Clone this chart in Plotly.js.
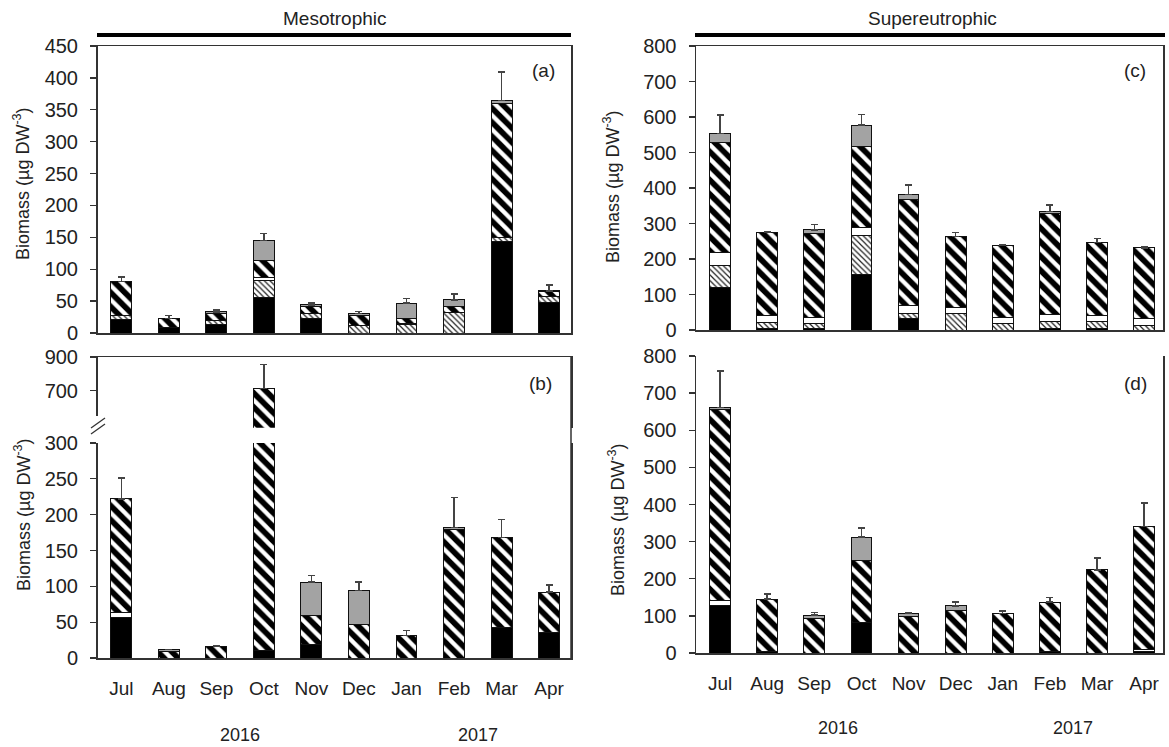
<!DOCTYPE html>
<html><head><meta charset="utf-8">
<script src="https://cdn.plot.ly/plotly-3.0.1.min.js"></script>
<style>body{margin:0;background:#fff}#chart{width:1169px;height:747px}</style>
</head><body><div id="chart"></div>
<script>
// ---- data (µg DW m-3) ----
const months = ["Jul","Aug","Sep","Oct","Nov","Dec","Jan","Feb","Mar","Apr"];
const yearLabels = ["2016","2017"];

// (a) Mesotrophic, upper
const aBlack = [21, 8, 14, 56, 23, 0, 0, 0, 143, 48];
const aFine  = [7, 0, 5, 26, 7, 11, 14, 32, 6, 9];
const aWhite = [0, 0, 0, 5, 0, 0, 1, 0, 0, 1];
const aBold  = [53, 15, 12, 27, 11, 17, 7, 10, 211, 7];
const aGray  = [0, 0, 2, 31, 3, 3, 25, 10, 5, 1];
const aErr   = [7, 4, 3, 11, 3, 3, 7, 9, 44, 9];

// (b) Mesotrophic, lower
const bBlack = [57, 0, 0, 10, 19, 0, 0, 0, 43, 35];
const bFine  = [0, 0, 0, 0, 0, 0, 0, 0, 0, 0];
const bWhite = [6, 0, 0, 0, 0, 0, 0, 0, 0, 0];
const bBold  = [159, 9, 16, 704, 41, 47, 31, 180, 125, 57];
const bGray  = [0, 3, 0, 0, 46, 47, 0, 2, 0, 0];
const bErr   = [29, 0, 1.5, 140, 9, 12, 7, 42, 25, 10];

// (c) Supereutrophic, upper
const cBlack = [120, 5, 4, 157, 32, 0, 0, 4, 4, 0];
const cFine  = [61, 15, 15, 110, 15, 47, 17, 20, 20, 13];
const cWhite = [38, 21, 17, 21, 21, 17, 17, 21, 17, 19];
const cBold  = [310, 234, 237, 229, 299, 199, 204, 282, 205, 199];
const cGray  = [25, 0, 9, 60, 15, 0, 0, 7, 0, 0];
const cErr   = [52, 3, 16, 30, 26, 12, 2, 18, 11, 3];

// (d) Supereutrophic, lower
const dBlack = [129, 3, 0, 82, 0, 0, 0, 4, 0, 4];
const dFine  = [0, 0, 0, 0, 0, 0, 0, 0, 0, 0];
const dWhite = [13, 0, 0, 0, 0, 0, 0, 0, 0, 5];
const dBold  = [513, 142, 93, 167, 97, 115, 106, 133, 224, 332];
const dGray  = [7, 0, 9, 63, 9, 12, 0, 0, 0, 0];
const dErr   = [98, 14, 7, 25, 3, 10, 7, 12, 32, 63];

// ---- layout helpers (pixel -> paper) ----
const W = 1169, H = 747;
const px = v => v / W;
const py = v => 1 - v / H;
const FONT = "Liberation Sans, Arial, sans-serif";
const TXT = "#222";
const LINE = "#333";

const outline = {color: "#111", width: 1};
const styles = {
  black: {color: "#000", line: outline},
  fine:  {color: "#fff", line: outline,
          pattern: {shape: "\\", fgcolor: "#222", bgcolor: "#fff", size: 4, solidity: 0.3}},
  white: {color: "#fff", line: outline},
  bold:  {color: "#000", line: outline,
          pattern: {shape: "\\", fgcolor: "#fff", bgcolor: "#000", size: 10, solidity: 0.42}},
  gray:  {color: "#a3a3a3", line: outline}
};

const traces = [];
function panel(series, err, xa, ya) {
  const order = ["black", "fine", "white", "bold", "gray"];
  order.forEach((k) => {
    const t = {
      type: "bar", x: months, y: series[k], xaxis: xa, yaxis: ya,
      marker: styles[k], showlegend: false, hoverinfo: "y"
    };
    if (k === "gray") {
      t.error_y = {type: "data", array: err, arrayminus: err.map(() => 0), symmetric: false,
                   color: "#444", thickness: 1.4, width: 3.5};
    }
    traces.push(t);
  });
}
panel({black: aBlack, fine: aFine, white: aWhite, bold: aBold, gray: aGray}, aErr, "x", "y");
panel({black: bBlack, fine: bFine, white: bWhite, bold: bBold, gray: bGray}, bErr, "x2", "y2");
panel({black: bBlack, fine: bFine, white: bWhite, bold: bBold, gray: bGray}, bErr, "x3", "y3");
panel({black: cBlack, fine: cFine, white: cWhite, bold: cBold, gray: cGray}, cErr, "x4", "y4");
panel({black: dBlack, fine: dFine, white: dWhite, bold: dBold, gray: dGray}, dErr, "x5", "y5");

const yTickFont = {family: FONT, size: 20, color: TXT};
const xTickFont = {family: FONT, size: 19, color: TXT};
function xax(dom, range, opts) {
  return Object.assign({
    domain: dom, range: range, type: "category", showline: true, linecolor: LINE, linewidth: 1.5,
    ticks: "", showticklabels: false, showgrid: false, zeroline: false, fixedrange: true,
    tickfont: xTickFont
  }, opts || {});
}
function yax(dom, range, opts) {
  return Object.assign({
    domain: dom, range: range, showline: true, linecolor: LINE, linewidth: 1.5,
    ticks: "outside", ticklen: 6, tickcolor: LINE, tickwidth: 1.3, showgrid: false, zeroline: false,
    tickfont: yTickFont, ticklabelstandoff: 8, fixedrange: true
  }, opts || {});
}
const leftX = [px(97.5), px(571)];
const rightX = [px(696), px(1163)];
const leftR = [-0.5, 9.46];
const rightR = [-0.51, 9.4];

function note(text, x, y, size, extra) {
  return Object.assign({text: text, xref: "paper", yref: "paper", x: x, y: y, showarrow: false,
    xanchor: "center", yanchor: "middle", font: {family: FONT, size: size, color: TXT}}, extra || {});
}
const yTitle = "Biomass (µg DW<sup>-3</sup>)";

const layout = {
  width: W, height: H, autosize: false,
  margin: {l: 0, r: 0, t: 0, b: 0},
  paper_bgcolor: "#fff", plot_bgcolor: "rgba(0,0,0,0)",
  barmode: "stack", bargap: 0.56,
  font: {family: FONT, color: TXT},
  xaxis:  xax(leftX, leftR, {anchor: "y", mirror: true}),
  yaxis:  yax([py(333), py(46)], [0, 450], {anchor: "x", dtick: 50, mirror: true}),
  xaxis2: xax(leftX, leftR, {anchor: "y2", showticklabels: true, ticklabelstandoff: 13}),
  yaxis2: yax([py(658), py(443)], [0, 300], {anchor: "x2", dtick: 50, mirror: true}),
  xaxis3: xax(leftX, leftR, {anchor: "y3", side: "top"}),
  yaxis3: yax([py(427.7), py(357)], [482, 900], {anchor: "x3", tickvals: [700, 900], mirror: true}),
  xaxis4: xax(rightX, rightR, {anchor: "y4", mirror: true}),
  yaxis4: yax([py(330), py(46)], [0, 800], {anchor: "x4", dtick: 100, mirror: true}),
  xaxis5: xax(rightX, rightR, {anchor: "y5", showticklabels: true, ticklabelstandoff: 13}),
  yaxis5: yax([py(653), py(356)], [0, 800], {anchor: "x5", dtick: 100, mirror: true}),
  shapes: [
    {type: "line", xref: "paper", yref: "paper", x0: px(97), x1: px(571), y0: py(35), y1: py(35),
     line: {color: "#000", width: 4}},
    {type: "line", xref: "paper", yref: "paper", x0: px(695), x1: px(1165), y0: py(35), y1: py(35),
     line: {color: "#000", width: 4}},
    // continuous right frame of panel (b)
    {type: "line", xref: "paper", yref: "paper", x0: px(571), x1: px(571), y0: py(658), y1: py(357),
     line: {color: LINE, width: 1.5}},
    // white gap to hide the left axis line near the break
    {type: "rect", xref: "paper", yref: "paper", x0: px(93), x1: px(102), y0: py(442), y1: py(416),
     line: {width: 0}, fillcolor: "#fff", layer: "above"},
    // break marks
    {type: "line", xref: "paper", yref: "paper", x0: px(91), x1: px(105), y0: py(428), y1: py(418),
     line: {color: LINE, width: 1.3}, layer: "above"},
    {type: "line", xref: "paper", yref: "paper", x0: px(91), x1: px(105), y0: py(434), y1: py(424),
     line: {color: LINE, width: 1.3}, layer: "above"}
  ],
  annotations: [
    note("Mesotrophic", px(335), py(19), 19),
    note("Supereutrophic", px(932), py(19), 19),
    note("(a)", px(543), py(71), 19),
    note("(b)", px(540), py(383), 19),
    note("(c)", px(1135), py(71), 19),
    note("(d)", px(1135), py(383), 19),
    note(yTitle, px(22), py(184), 18, {textangle: -90}),
    note(yTitle, px(22), py(515), 18, {textangle: -90}),
    note(yTitle, px(611), py(186), 18, {textangle: -90}),
    note(yTitle, px(616), py(520), 18, {textangle: -90}),
    note(yearLabels[0], 2.5, py(735), 18, {xref: "x2"}),
    note(yearLabels[1], 7.5, py(735), 18, {xref: "x2"}),
    note(yearLabels[0], 2.5, py(728), 18, {xref: "x5"}),
    note(yearLabels[1], 7.5, py(728), 18, {xref: "x5"})
  ]
};

Plotly.newPlot("chart", traces, layout, {displayModeBar: false, staticPlot: true});
</script>
</body></html>
